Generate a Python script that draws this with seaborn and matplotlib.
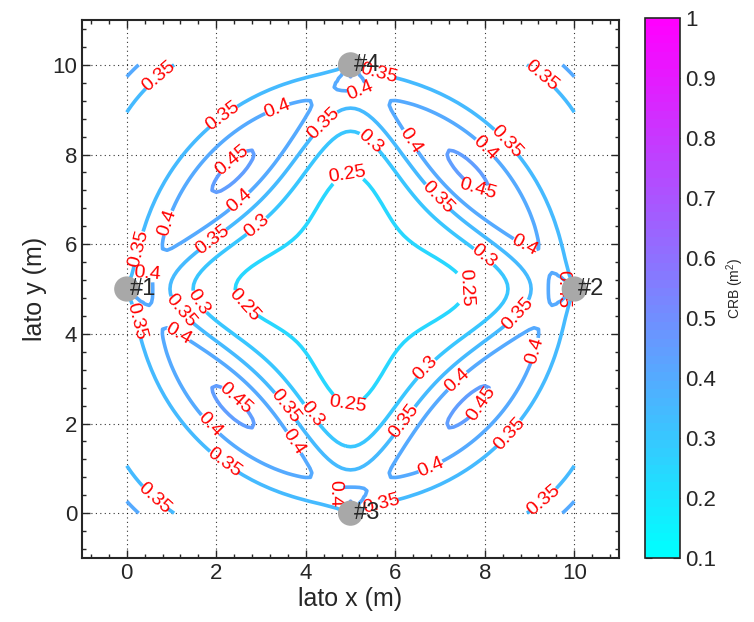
import numpy as np
import pandas as pd
import matplotlib
matplotlib.use("Agg")
import matplotlib.pyplot as plt
import seaborn as sns

# anchors (m)
anchor_x = [0, 10, 5, 5]
anchor_y = [5, 5, 0, 10]
anchor_names = ["#1", "#2", "#3", "#4"]

# contour levels of the CRB (m^2)
crb_levels = [0.25, 0.3, 0.35, 0.4, 0.45]
cbar_ticks = [0.1, 0.2, 0.3, 0.4, 0.5, 0.6, 0.7, 0.8, 0.9, 1.0]

# ranging noise model: var = sigma2_ref * (d / d_ref) ** alpha
sigma2_ref = 0.25
d_ref = 5.0
alpha = 2.0
grid_step = 0.1
room_side = 10.0

sns.set_style("ticks")
plt.rcParams["font.family"] = ["Liberation Sans", "DejaVu Sans"]
plt.rcParams["mathtext.fontset"] = "custom"
plt.rcParams["mathtext.rm"] = "Liberation Sans"


def crb_map(xs, ys):
    X, Y = np.meshgrid(xs, ys)
    fxx = np.zeros_like(X)
    fxy = np.zeros_like(X)
    fyy = np.zeros_like(X)
    for ax_, ay_ in zip(anchor_x, anchor_y):
        dx = X - ax_
        dy = Y - ay_
        d = np.hypot(dx, dy)
        with np.errstate(all="ignore"):
            ux, uy = dx / d, dy / d
            w = 1.0 / (sigma2_ref * (d / d_ref) ** alpha)
        fxx += w * ux * ux
        fxy += w * ux * uy
        fyy += w * uy * uy
    with np.errstate(all="ignore"):
        det = fxx * fyy - fxy ** 2
        return X, Y, (fxx + fyy) / det


xs = np.arange(0, room_side + grid_step / 2, grid_step)
X, Y, Z = crb_map(xs, xs)

cmap = plt.get_cmap("cool", 64)
norm = matplotlib.colors.Normalize(vmin=0.1, vmax=1.0)

fig = plt.figure(figsize=(7.54, 6.22), dpi=100)
ax = fig.add_axes([0.1088, 0.1029, 0.7122, 0.8649])

ax.grid(True, which="major", linestyle=(0, (1, 3)), color="black", linewidth=0.8, alpha=0.8)
ax.set_axisbelow(True)

cs = ax.contour(X, Y, Z, levels=crb_levels, cmap=cmap, norm=norm, linewidths=2.6, zorder=2)

# where the labels sit along the lines (like the original figure)
label_spots = [
    (0.71, 9.73), (2.17, 8.82), (3.37, 9.0), (4.4, 8.7), (2.37, 7.84), (2.54, 6.94),
    (0.92, 6.47), (1.88, 6.14), (2.92, 6.38), (4.93, 7.54), (0.25, 5.91), (0.45, 5.35),
    (5.6, 9.73), (5.22, 9.4), (5.4, 8.26), (6.3, 8.29), (6.94, 7.05), (7.97, 5.71),
    (7.41, 5.0), (7.97, 8.1), (8.5, 8.29), (7.86, 7.25), (8.9, 5.98), (9.24, 9.7),
    (9.62, 4.9), (1.14, 4.46), (1.58, 4.69), (2.61, 4.64), (0.13, 4.26), (1.14, 3.97),
    (2.39, 2.52), (3.5, 2.34), (4.11, 2.19), (3.73, 1.58), (1.81, 1.92), (2.17, 1.14),
    (0.65, 0.36), (4.71, 0.45), (4.93, 2.41), (8.73, 4.46), (9.08, 3.64), (6.67, 3.24),
    (7.41, 2.92), (7.9, 2.46), (6.18, 2.08), (8.53, 1.79), (6.79, 1.03),
    (5.67, 0.29), (9.31, 0.29),
]
ax.clabel(cs, fmt="%g", fontsize=14, colors="red", inline=True, inline_spacing=2,
          manual=label_spots)

anchors = pd.DataFrame({"x": anchor_x, "y": anchor_y, "name": anchor_names})
sns.scatterplot(data=anchors, x="x", y="y", s=330, color="#a8a8a8", edgecolor="none", zorder=4, ax=ax, legend=False)
for _, r in anchors.iterrows():
    ax.text(r["x"] + 0.08, r["y"], r["name"], fontsize=17, ha="left", va="center", zorder=5)

ax.set_xlim(-1, 11)
ax.set_ylim(-1, 11)
ax.set_xticks(range(0, 11, 2))
ax.set_yticks(range(0, 11, 2))
ax.xaxis.set_minor_locator(matplotlib.ticker.MultipleLocator(0.4))
ax.yaxis.set_minor_locator(matplotlib.ticker.MultipleLocator(0.4))
ax.tick_params(which="both", direction="in", top=True, right=True, labelsize=16, width=1)
ax.tick_params(which="major", length=6)
ax.tick_params(which="minor", length=3)
for sp in ax.spines.values():
    sp.set_linewidth(1.5)
ax.set_xlabel("lato x (m)", fontsize=18, labelpad=2)
ax.set_ylabel("lato y (m)", fontsize=18, labelpad=4)

cax = fig.add_axes([0.8554, 0.1029, 0.0464, 0.8681])
cb = fig.colorbar(matplotlib.cm.ScalarMappable(norm=norm, cmap=cmap), cax=cax, ticks=cbar_ticks)
cb.ax.set_yticklabels([f"{t:g}" for t in cbar_ticks])
cb.ax.tick_params(direction="in", labelsize=16, length=5, left=True, right=True)
cb.outline.set_linewidth(1.2)
cb.set_label("CRB (m$^2$)", fontsize=10, labelpad=6)

fig.savefig("out.png", dpi=100)
